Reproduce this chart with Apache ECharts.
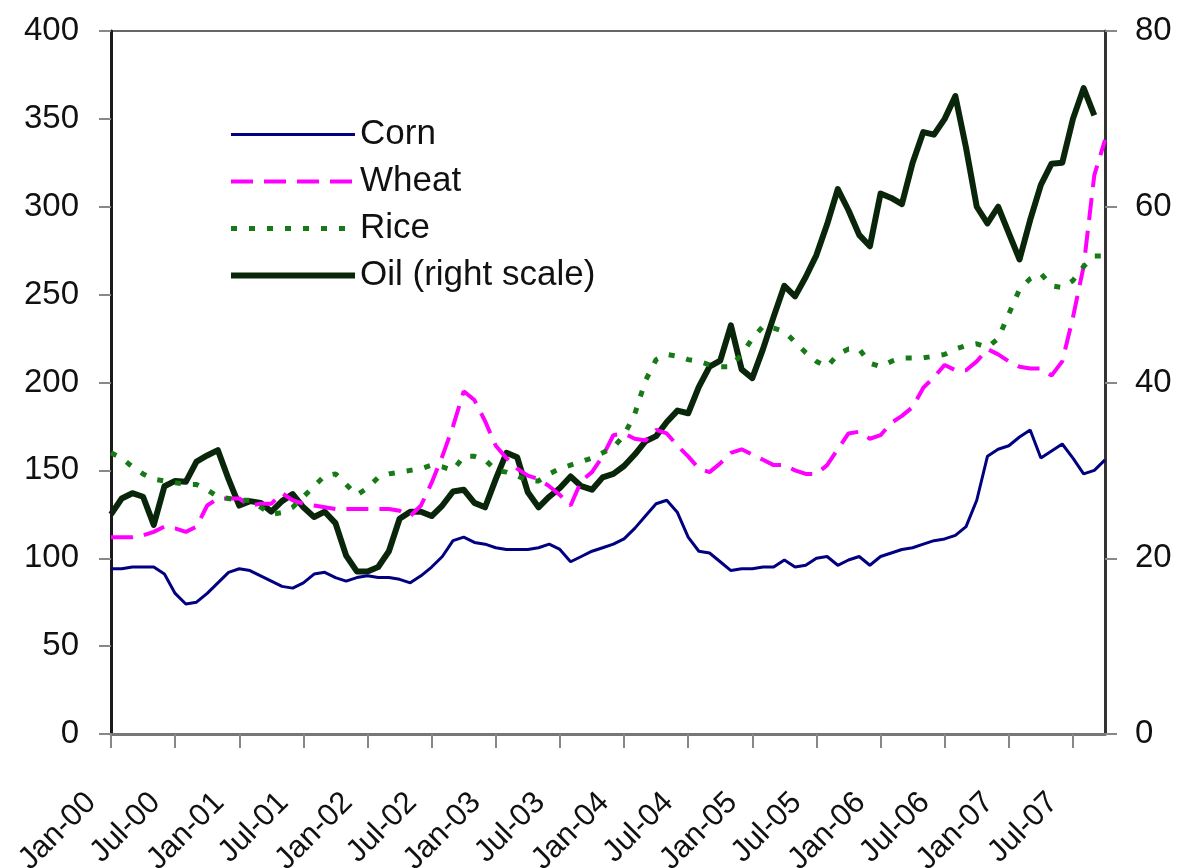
<!DOCTYPE html>
<html>
<head>
<meta charset="utf-8">
<script src="https://cdn.jsdelivr.net/npm/echarts@6/dist/echarts.min.js"></script>
<style>
html,body{margin:0;padding:0;background:#fff;}
#chart{width:1180px;height:868px;}
</style>
</head>
<body>
<div id="chart"></div>
<script>
// Month categories Jan-00 .. Oct-07
var monthNames = ['Jan','Feb','Mar','Apr','May','Jun','Jul','Aug','Sep','Oct','Nov','Dec'];
var years = ['00','01','02','03','04','05','06','07'];
var categories = [];
years.forEach(function (y) { monthNames.forEach(function (m) { categories.push(m + '-' + y); }); });
categories = categories.slice(0, 94);

var seriesNames = ['Corn', 'Wheat', 'Rice', 'Oil (right scale)'];

var corn = [94,94,95,95,95,91,80,74,75,80,86,92,
            94,93,90,87,84,83,86,91,92,89,87,89,
            90,89,89,88,86,90,95,101,110,112,109,108,
            106,105,105,105,106,108,105,98,101,104,106,108,
            111,117,124,131,133,126,112,104,103,98,93,94,
            94,95,95,99,95,96,100,101,96,99,101,96,
            101,103,105,106,108,110,111,113,118,133,158,162,
            164,169,173,157,161,165,157,148,150,156];

var wheat = [112,112,112,113,115,118,117,115,118,130,134,134,
             134,130,131,131,137,133,131,130,129,128,128,128,
             128,128,128,127,124,130,143,158,175,195,190,178,
             164,157,151,147,145,141,136,130,144,149,158,170,
             171,168,167,173,171,164,158,151,149,154,160,162,
             159,156,153,153,150,148,148,153,162,171,172,168,
             170,177,181,186,197,203,210,207,207,212,219,216,
             212,209,208,208,204,212,237,266,318,338];

var rice = [160,157,152,148,145,144,143,142,142,139,135,134,
            133,133,129,125,126,129,135,141,147,148,142,136,
            140,146,148,149,150,151,153,152,150,158,158,156,
            150,149,147,144,144,148,151,153,155,157,160,163,
            170,182,201,213,216,215,213,212,210,209,209,216,
            225,232,231,229,223,217,212,209,216,219,219,211,
            209,212,214,214,214,215,216,219,221,222,220,225,
            239,253,259,262,255,254,258,266,272,272];

var oil = [25,26.8,27.4,27,23.8,28.2,28.8,28.7,31,31.7,32.3,29,
           26,26.5,26.3,25.3,26.5,27.3,25.8,24.7,25.3,24,20.3,18.5,
           18.5,19,20.8,24.5,25.3,25.3,24.8,26,27.6,27.8,26.3,25.8,
           29,32,31.5,27.5,25.8,27,28,29.3,28.2,27.8,29.2,29.6,
           30.5,31.8,33.3,33.9,35.5,36.8,36.5,39.5,41.8,42.5,46.5,41.5,
           40.5,43.8,47.5,51,49.8,52,54.5,58,62,59.6,56.8,55.5,
           61.5,61,60.3,65,68.5,68.2,70,72.6,66.7,60,58.1,60,
           57,54,58.5,62.5,64.9,65,70,73.5,70.4,null];

var leftTicks = {min: 0, max: 400, interval: 50};
var rightTicks = {min: 0, max: 80, interval: 20};

var FONT = '"Liberation Sans", Arial, Helvetica, sans-serif';

var chart = echarts.init(document.getElementById('chart'), null, {renderer: 'canvas'});
chart.setOption({
  animation: false,
  backgroundColor: '#ffffff',
  grid: {
    left: 111, right: 75, top: 31, bottom: 134,
    containLabel: false, outerBoundsMode: 'none',
    show: true, borderColor: '#666666', borderWidth: 2, backgroundColor: 'transparent'
  },
  legend: {
    orient: 'vertical',
    left: 228, top: 117, padding: 0,
    itemWidth: 124, itemHeight: 12, itemGap: 12,
    data: seriesNames,
    itemStyle: {opacity: 0},
    lineStyle: {width: 'inherit', type: 'inherit'},
    textStyle: {fontFamily: FONT, fontSize: 35, color: '#111', lineHeight: 34}
  },
  xAxis: {
    type: 'category',
    data: categories,
    boundaryGap: false,
    axisLine: {show: true, lineStyle: {color: '#777', width: 3}},
    axisTick: {show: true, interval: 5, length: 14, lineStyle: {color: '#888', width: 2}},
    axisLabel: {
      interval: 5, rotate: 45, margin: 44,
      fontFamily: FONT, fontSize: 31, color: '#111',
      padding: [0, 28, 0, 0]
    },
    splitLine: {show: false}
  },
  yAxis: [{
    type: 'value', position: 'left',
    min: leftTicks.min, max: leftTicks.max, interval: leftTicks.interval,
    axisLine: {show: true, lineStyle: {color: '#1a1a1a', width: 3}},
    axisTick: {show: true, length: 12, lineStyle: {color: '#888', width: 2}},
    axisLabel: {margin: 32, fontFamily: FONT, fontSize: 33, color: '#111'},
    splitLine: {show: false}
  }, {
    type: 'value', position: 'right',
    min: rightTicks.min, max: rightTicks.max, interval: rightTicks.interval,
    axisLine: {show: true, lineStyle: {color: '#333', width: 3}},
    axisTick: {show: true, length: 12, lineStyle: {color: '#888', width: 2}},
    axisLabel: {margin: 30, fontFamily: FONT, fontSize: 33, color: '#111'},
    splitLine: {show: false}
  }],
  series: [{
    name: 'Oil (right scale)', type: 'line', yAxisIndex: 1, data: oil,
    symbol: 'none', z: 1,
    lineStyle: {color: '#0a260a', width: 6, join: 'round'},
    itemStyle: {color: '#0a260a'}
  }, {
    name: 'Corn', type: 'line', yAxisIndex: 0, data: corn,
    symbol: 'none', z: 3,
    lineStyle: {color: '#000080', width: 3},
    itemStyle: {color: '#000080'}
  }, {
    name: 'Wheat', type: 'line', yAxisIndex: 0, data: wheat,
    symbol: 'none', z: 3,
    lineStyle: {color: '#ff00ff', width: 4, type: [22, 11]},
    itemStyle: {color: '#ff00ff'}
  }, {
    name: 'Rice', type: 'line', yAxisIndex: 0, data: rice,
    symbol: 'none', z: 3,
    lineStyle: {color: '#177a17', width: 5, type: [6, 12]},
    itemStyle: {color: '#177a17'}
  }]
});
</script>
</body>
</html>
